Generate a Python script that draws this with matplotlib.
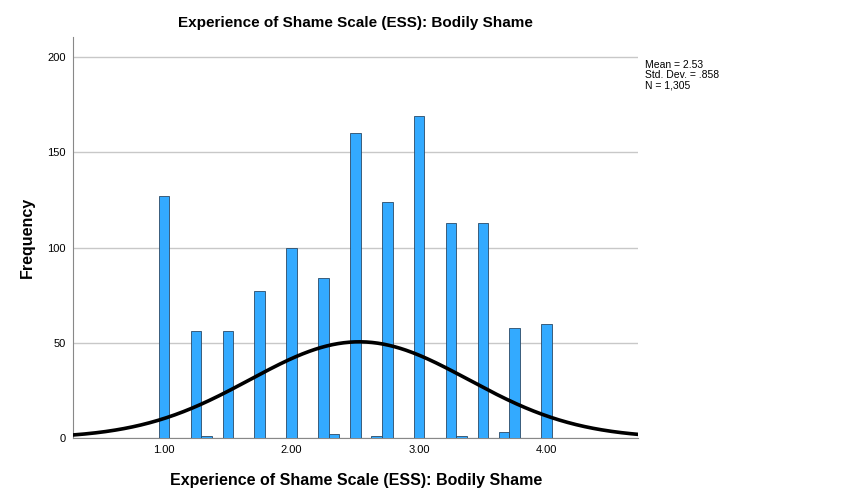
import numpy as np
import matplotlib
matplotlib.use("Agg")
import matplotlib.pyplot as plt

plt.rcParams['font.family'] = ['Liberation Sans', 'DejaVu Sans']

# bin centres (k/12) and counts
bin_centers = np.array([12, 15, 16, 18, 21, 24, 27, 28, 30, 32, 33, 36, 39, 40, 42, 44, 45, 48]) / 12
counts = [127, 56, 1, 56, 77, 100, 84, 2, 160, 1, 124, 169, 113, 1, 113, 3, 58, 60]
bin_width = 1 / 12

mean = 2.53
std = 0.858
n = 1305

xticks = [1.0, 2.0, 3.0, 4.0]
xtick_labels = ['1.00', '2.00', '3.00', '4.00']
yticks = [0, 50, 100, 150, 200]

fig = plt.figure(figsize=(8.53, 5.03), dpi=100)
ax = fig.add_axes([0.0855, 0.129, 0.663, 0.797])

ax.bar(bin_centers, counts, width=bin_width, color='#33aaff',
       edgecolor='#2b4a66', linewidth=0.6, zorder=3)

# normal curve from the stated mean / sd
x = np.linspace(0.285, 4.72, 400)
y = n * bin_width * np.exp(-0.5 * ((x - mean) / std) ** 2) / (std * np.sqrt(2 * np.pi))
ax.plot(x, y, color='black', linewidth=2.6, zorder=4)

ax.set_xlim(0.285, 4.72)
ax.set_ylim(0, 210.5)
ax.set_xticks(xticks)
ax.set_xticklabels(xtick_labels)
ax.set_yticks(yticks)
ax.tick_params(length=0, labelsize=8, pad=5)
ax.yaxis.grid(True, color='#c8c8c8', linewidth=1, zorder=0)
ax.set_axisbelow(True)
for s in ['top', 'right']:
    ax.spines[s].set_visible(False)
ax.spines['left'].set_color('#888888')
ax.spines['bottom'].set_color('#888888')

ax.set_title('Experience of Shame Scale (ESS): Bodily Shame', fontsize=11,
             fontweight='bold', pad=7)
ax.set_xlabel('Experience of Shame Scale (ESS): Bodily Shame', fontsize=11.5,
              fontweight='bold', labelpad=13)
ax.set_ylabel('Frequency', fontsize=11.5, fontweight='bold', labelpad=9)

fig.text(0.756, 0.88, 'Mean = 2.53\nStd. Dev. = .858\nN = 1,305',
         fontsize=7.5, va='top', ha='left', linespacing=1.0)

fig.savefig('out.png', dpi=100)
